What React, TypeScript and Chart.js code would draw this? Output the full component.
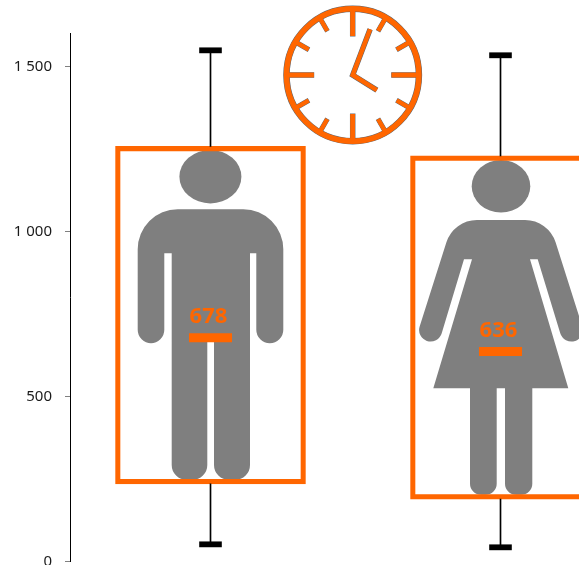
import React, { useEffect, useRef } from "react";
import { Chart, registerables } from "chart.js";

Chart.register(...registerables);

const categories = ["Men", "Women"];
const whiskerHigh = [1549, 1534];
const boxTop = [1258, 1229];
const medians = [678, 636];
const boxBottom = [235, 189];
const whiskerLow = [52, 43];
const yTickValues = [0, 500, 1000, 1500];
const yTickLabels = ["0", "500", "1 000", "1 500"];

const ORANGE = "#ff6600";
const GREY = "#7f7f7f";
const positions = categories.map((_, i) => i);

type P = [number, number, number?];

function roundPoly(ctx: CanvasRenderingContext2D, pts: P[]) {
  const n = pts.length;
  const first = pts[0];
  const last = pts[n - 1];
  ctx.moveTo((first[0] + last[0]) / 2, (first[1] + last[1]) / 2);
  for (let i = 0; i < n; i++) {
    const p = pts[i];
    const q = pts[(i + 1) % n];
    ctx.arcTo(p[0], p[1], q[0], q[1], p[2] || 0);
  }
  ctx.closePath();
}

const manShape: P[] = [
  [137.7, 209.3, 40], [283.3, 209.3, 40], [283.3, 343.3, 13.5], [256.3, 343.3, 13.5],
  [256.3, 253.3], [250, 253.3], [250, 480, 15], [214, 480, 15], [214, 342], [207.3, 342],
  [207.3, 480, 15], [171.7, 480, 15], [171.7, 253.3], [164.3, 253.3], [164.3, 343.3, 13.5], [137.7, 343.3, 13.5],
];

const womanShape: P[] = [
  [453.5, 220, 32], [548.5, 220, 32], [585.9, 337.6, 11.7], [563.7, 344.6, 11.7],
  [537.7, 259.3], [530, 259.3], [568.3, 388.3], [532.3, 388.3], [532.3, 494.7, 11], [505, 494.7, 11],
  [505, 388.3], [496.7, 388.3], [496.7, 494.7, 11], [470, 494.7, 11], [470, 388.3], [433.3, 388.3],
  [472, 259.3], [464, 259.3], [438.3, 344.6, 11.7], [416.1, 337.6, 11.7],
];

function drawIcons(ctx: CanvasRenderingContext2D) {
  ctx.fillStyle = GREY;
  ctx.beginPath();
  ctx.ellipse(210.4, 176.7, 31, 26.7, 0, 0, Math.PI * 2);
  ctx.fill();
  ctx.beginPath();
  roundPoly(ctx, manShape);
  ctx.fill();
  ctx.beginPath();
  ctx.ellipse(501, 186.3, 29.3, 26.3, 0, 0, Math.PI * 2);
  ctx.fill();
  ctx.beginPath();
  roundPoly(ctx, womanShape);
  ctx.fill();
}

function drawClock(ctx: CanvasRenderingContext2D) {
  const cx = 352.7;
  const cy = 75;
  const segs: [number, number, number, number][] = [];
  for (let h = 0; h < 12; h++) {
    const a = (h * Math.PI) / 6;
    const major = h % 3 === 0;
    segs.push([a, major ? 39 : 51, 66, major ? 4.5 : 4]);
  }
  const ray = (a: number, r: number): [number, number] => [cx + Math.sin(a) * r, cy - Math.cos(a) * r];
  const hands = () => {
    ctx.beginPath();
    const m = ray(0.363, 49);
    const h = ray(2.13, 28.5);
    ctx.moveTo(m[0], m[1]);
    ctx.lineTo(cx, cy);
    ctx.lineTo(h[0], h[1]);
    ctx.stroke();
  };
  ctx.save();
  ctx.lineCap = "butt";
  ctx.lineJoin = "miter";
  for (const [color, extra] of [["#5d6670", 1.0], [ORANGE, 0]] as [string, number][]) {
    ctx.strokeStyle = color;
    for (const [a, r0, r1, w] of segs) {
      ctx.lineWidth = w + extra;
      const p = ray(a, r0 - extra / 2);
      const q = ray(a, r1);
      ctx.beginPath();
      ctx.moveTo(p[0], p[1]);
      ctx.lineTo(q[0], q[1]);
      ctx.stroke();
    }
    ctx.lineWidth = 4.5 + extra;
    hands();
    ctx.lineWidth = 5.5 + extra;
    ctx.beginPath();
    ctx.arc(cx, cy, 66.2, 0, Math.PI * 2);
    ctx.stroke();
  }
  ctx.strokeStyle = ORANGE;
  for (const [a, r0, r1, w] of segs) {
    ctx.lineWidth = w;
    const p = ray(a, r0);
    const q = ray(a, r1);
    ctx.beginPath();
    ctx.moveTo(p[0], p[1]);
    ctx.lineTo(q[0], q[1]);
    ctx.stroke();
  }
  ctx.restore();
}

const artPlugin = {
  id: "art",
  beforeDatasetsDraw(chart: any) {
    drawIcons(chart.ctx);
  },
  afterDraw(chart: any) {
    const { ctx, scales } = chart;
    ctx.save();
    ctx.fillStyle = ORANGE;
    ctx.font = "bold 22px 'Noto Sans'";
    ctx.textAlign = "center";
    ctx.textBaseline = "alphabetic";
    medians.forEach((v, i) => {
      ctx.fillText(String(v), scales.x.getPixelForValue(positions[i]) - 2, scales.y.getPixelForValue(v) - 15);
    });
    ctx.restore();
    drawClock(ctx);
  },
};

export default function App() {
  const ref = useRef<HTMLCanvasElement>(null);
  useEffect(() => {
    const base = { parsing: { xAxisKey: "x", yAxisKey: "y" }, grouped: false };
    const chart = new Chart(ref.current!, {
      type: "bar",
      data: {
        datasets: [
          {
            ...base,
            label: "Upper whisker",
            data: positions.map((x, i) => ({ x, y: [boxTop[i], whiskerHigh[i]] })),
            backgroundColor: "#000",
            barThickness: 1,
          },
          {
            ...base,
            label: "Lower whisker",
            data: positions.map((x, i) => ({ x, y: [whiskerLow[i], boxBottom[i]] })),
            backgroundColor: "#000",
            barThickness: 1,
          },
          {
            ...base,
            label: categories[0],
            data: [{ x: positions[0], y: [boxBottom[0], boxTop[0]] }],
            backgroundColor: "transparent",
            borderColor: ORANGE,
            borderWidth: 4.5,
            borderSkipped: false,
            barThickness: 190,
          },
          {
            ...base,
            label: categories[1],
            data: [{ x: positions[1], y: [boxBottom[1], boxTop[1]] }],
            backgroundColor: "transparent",
            borderColor: ORANGE,
            borderWidth: 4.5,
            borderSkipped: false,
            barThickness: 180,
          },
          {
            type: "scatter",
            label: "Whisker caps",
            data: positions.flatMap((x, i) => [{ x, y: whiskerHigh[i] }, { x, y: whiskerLow[i] }]),
            pointStyle: "line",
            pointRadius: 11.3,
            pointBorderWidth: 5.8,
            pointBorderColor: "#000",
            clip: false,
          },
          {
            type: "scatter",
            label: "Median",
            data: positions.map((x, i) => ({ x, y: medians[i] })),
            pointStyle: "line",
            pointRadius: 21.5,
            pointBorderWidth: 9,
            pointBorderColor: ORANGE,
            clip: false,
          },
        ] as any,
      },
      options: {
        responsive: false,
        animation: false,
        devicePixelRatio: 1,
        layout: { autoPadding: false, padding: { top: 33.5, bottom: 3.5, left: 0, right: 0 } },
        plugins: { legend: { display: false }, tooltip: { enabled: false } },
        scales: {
          x: {
            type: "linear",
            display: false,
            offset: false,
            min: (70 - 210.5) / 290,
            max: (579 - 210.5) / 290,
          },
          y: {
            type: "linear",
            min: 0,
            max: 1600,
            afterFit: (s: any) => {
              s.width = 70;
              s.paddingTop = 0;
              s.paddingBottom = 0;
            },
            afterBuildTicks: (s: any) => {
              s.ticks = yTickValues.map((value) => ({ value }));
            },
            grid: { drawOnChartArea: false, drawTicks: true, tickLength: 5, color: "#808080" },
            border: { display: true, color: "#000" },
            ticks: {
              color: "#1a1a1a",
              padding: 13,
              autoSkip: false,
              font: { family: "'Noto Sans'", size: 15 },
              callback: (v: any) => yTickLabels[yTickValues.indexOf(Number(v))],
            },
          },
        },
      } as any,
      plugins: [artPlugin],
    });
    return () => chart.destroy();
  }, []);
  return (
    <div style={{ position: "absolute", left: 0, top: 0, width: 579, height: 565, overflow: "hidden", background: "#fff" }}>
      <canvas ref={ref} width={579} height={565} style={{ display: "block" }} />
    </div>
  );
}
